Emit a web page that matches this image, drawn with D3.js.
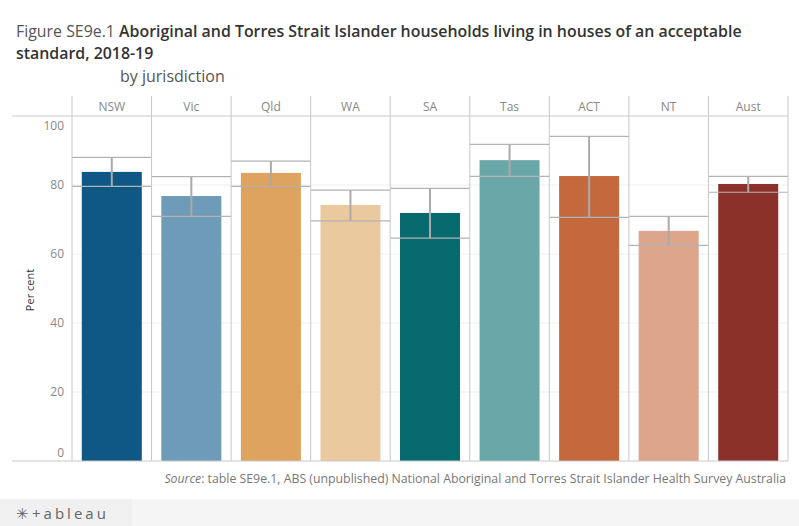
<!DOCTYPE html>
<html>
<head>
<meta charset="utf-8">
<script src="https://cdn.jsdelivr.net/npm/d3@7"></script>
<style>
body { margin: 0; background: #fff; font-family: "Open Sans", Lato, sans-serif; }
</style>
</head>
<body>
<div id="chart"></div>
<script>
// data
var states = ["NSW", "Vic", "Qld", "WA", "SA", "Tas", "ACT", "NT", "Aust"];
var values = [83.8, 76.8, 83.5, 74.2, 71.9, 87.2, 82.6, 66.7, 80.3];
var lower  = [79.6, 70.9, 79.6, 69.6, 64.6, 82.5, 70.6, 62.5, 77.9];
var upper  = [88.0, 82.4, 86.9, 78.5, 79.0, 91.8, 94.1, 70.9, 82.5];
var colours = ["#0f5785", "#6e9bb7", "#dea35e", "#ebc99e", "#066a6e", "#69a7a8", "#c4683d", "#dca58c", "#8b3129"];
var yTicks = [0, 20, 40, 60, 80, 100];

var larg = 799, haut = 526;
var gauche = 72, droite = 788, haut0 = 116, bas = 461;

var svg = d3.select("#chart").append("svg")
    .attr("width", larg)
    .attr("height", haut);

var x = d3.scaleBand().domain(states).range([gauche, droite]);
var y = d3.scaleLinear().domain([0, 100]).range([bas, haut0]);

// title
var t = svg.append("text").attr("x", 16).attr("y", 37).attr("font-size", "15.9px");
t.append("tspan").attr("fill", "#555").text("Figure SE9e.1  ");
t.append("tspan").attr("fill", "#333").attr("font-weight", 600)
    .text("Aboriginal and Torres Strait Islander households living in houses of an acceptable");
svg.append("text").attr("x", 16).attr("y", 59).attr("font-size", "15.9px")
    .attr("fill", "#333").attr("font-weight", 600).text("standard, 2018-19");
svg.append("text").attr("x", 120).attr("y", 82).attr("font-size", "16px")
    .attr("fill", "#555").text("by jurisdiction");

// gridlines
svg.selectAll(".grid")
    .data(yTicks.filter(function(d){ return d > 0 && d < 100; }))
    .enter().append("line")
    .attr("x1", gauche).attr("x2", droite)
    .attr("y1", function(d){ return y(d); })
    .attr("y2", function(d){ return y(d); })
    .attr("stroke", "#efefef");

// bars
var bw = 60;
svg.selectAll("rect.bar")
    .data(values)
    .enter().append("rect")
    .attr("class", "bar")
    .attr("x", function(d, i){ return x(states[i]) + x.bandwidth()/2 - bw/2; })
    .attr("y", function(d){ return y(d); })
    .attr("width", bw)
    .attr("height", function(d){ return bas - y(d); })
    .attr("fill", function(d, i){ return colours[i]; });

// confidence intervals: lines across the panel plus a vertical stem
var ci = svg.append("g");
states.forEach(function(s, i){
    var x0 = x(s), x1 = x(s) + x.bandwidth(), xc = x0 + x.bandwidth()/2;
    [lower[i], upper[i]].forEach(function(v){
        ci.append("line").attr("x1", x0).attr("x2", x1)
            .attr("y1", y(v)).attr("y2", y(v))
            .attr("stroke", "#b3b3b3").attr("stroke-width", 1.2);
    });
    ci.append("line").attr("x1", xc).attr("x2", xc)
        .attr("y1", y(upper[i])).attr("y2", y(lower[i]))
        .attr("stroke", "#aaa").attr("stroke-width", 2);
});

// panel separators
svg.selectAll(".sep")
    .data(states.map(function(s){ return x(s); }).concat([droite]))
    .enter().append("line")
    .attr("x1", function(d){ return d; }).attr("x2", function(d){ return d; })
    .attr("y1", 96).attr("y2", bas)
    .attr("stroke", "#c8c8c8");

svg.append("line").attr("x1", 12).attr("x2", droite).attr("y1", haut0).attr("y2", haut0)
    .attr("stroke", "#c8c8c8");
svg.append("line").attr("x1", 12).attr("x2", droite).attr("y1", bas).attr("y2", bas)
    .attr("stroke", "#c8c8c8");

// headers
svg.selectAll(".hdr")
    .data(states)
    .enter().append("text")
    .attr("x", function(d){ return x(d) + x.bandwidth()/2; })
    .attr("y", 111)
    .attr("text-anchor", "middle")
    .attr("font-size", "12px")
    .attr("fill", "#888")
    .text(function(d){ return d; });

// y axis labels
svg.selectAll(".ylab")
    .data(yTicks)
    .enter().append("text")
    .attr("x", 64)
    .attr("y", function(d){
        if (d === 0) return y(d) - 4;
        if (d === 100) return y(d) + 14;
        return y(d) + 4;
    })
    .attr("text-anchor", "end")
    .attr("font-size", "12px")
    .attr("fill", "#888")
    .text(function(d){ return d; });

svg.append("text")
    .attr("transform", "translate(34,290) rotate(-90)")
    .attr("text-anchor", "middle")
    .attr("font-size", "11px")
    .attr("fill", "#333")
    .text("Per cent");

// source
var src = svg.append("text").attr("x", 786).attr("y", 483)
    .attr("text-anchor", "end").attr("font-size", "12.3px").attr("fill", "#777");
src.append("tspan").attr("font-style", "italic").text("Source");
src.append("tspan").text(": table SE9e.1, ABS (unpublished) National Aboriginal and Torres Strait Islander Health Survey Australia");

// tableau footer
svg.append("rect").attr("x", 0).attr("y", 499).attr("width", larg).attr("height", 27).attr("fill", "#f5f5f5");
svg.append("rect").attr("x", 0).attr("y", 499).attr("width", 132).attr("height", 27).attr("fill", "#f0f0f0");
svg.append("text").attr("x", 16).attr("y", 519).attr("font-size", "15px").attr("fill", "#666")
    .attr("letter-spacing", "3px").text("\u2733+ableau");
</script>
</body>
</html>
